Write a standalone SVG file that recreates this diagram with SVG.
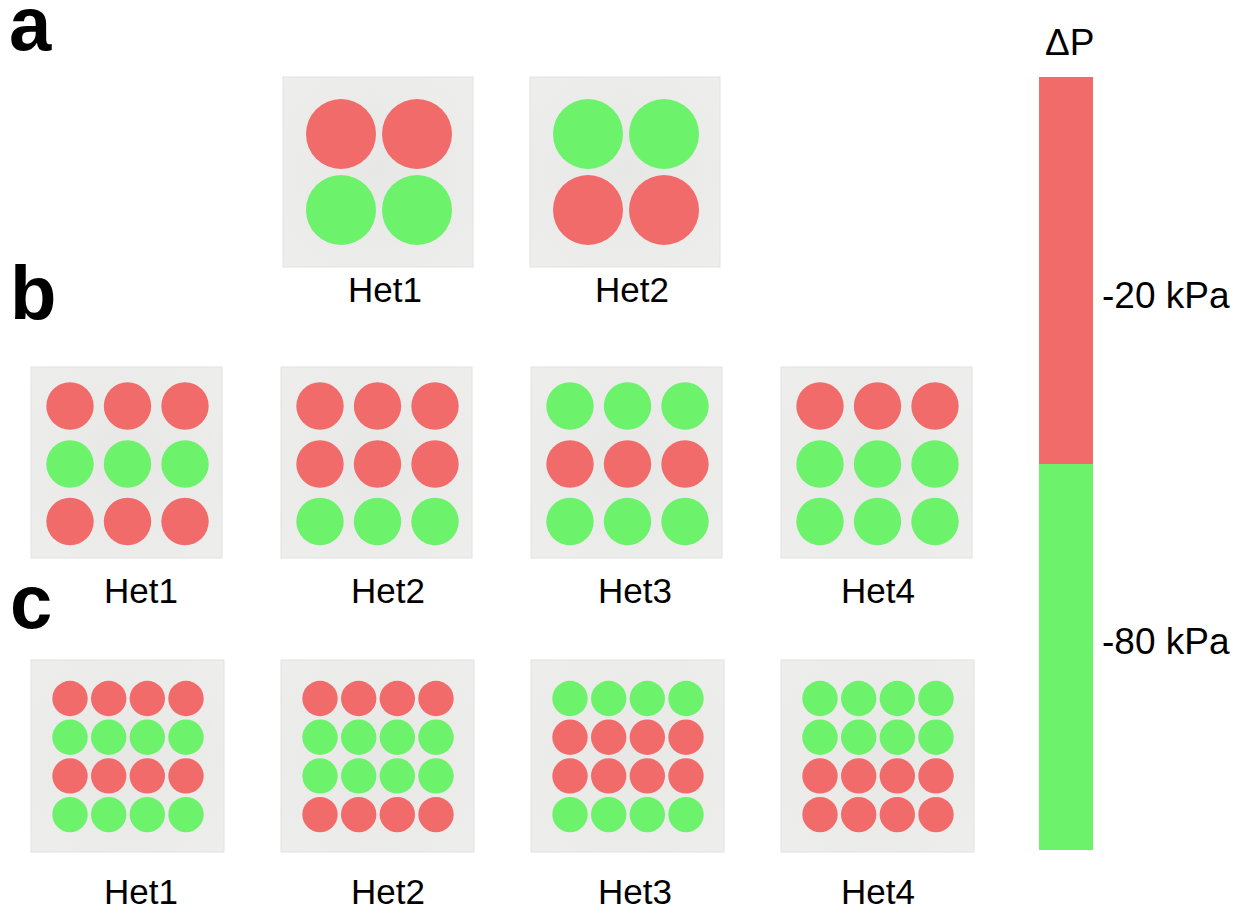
<svg xmlns="http://www.w3.org/2000/svg" width="1247" height="912" viewBox="0 0 1247 912">
<style>
.bg{fill:#EBEBEA;stroke:#E2E2E2;stroke-width:1}
.r{fill:#F26B6B}
.g{fill:#6CF26B}
.lbl{font-family:"Liberation Sans",Arial,sans-serif;font-size:35px;fill:#000;text-anchor:middle}
.big{font-family:"Liberation Sans",Arial,sans-serif;font-size:76px;font-weight:bold;fill:#000}
.cb{font-family:"Liberation Sans",Arial,sans-serif;font-size:37px;fill:#000}
</style>
<defs>
<radialGradient id="sh" cx="0.5" cy="0.5" r="0.7">
<stop offset="0" stop-color="#E7E7E6"/>
<stop offset="1" stop-color="#EEEEED"/>
</radialGradient>
</defs>
<rect width="1247" height="912" fill="#fff"/>
<text class="big" x="9" y="50">a</text>
<text class="big" x="10" y="319">b</text>
<text class="big" x="10" y="628">c</text>

<g id="a-het1">
<rect class="bg" x="283" y="77" width="190" height="190" style="fill:url(#sh)"/>
<circle class="r" cx="341" cy="134" r="35"/><circle class="r" cx="417" cy="134" r="35"/>
<circle class="g" cx="341" cy="210" r="35"/><circle class="g" cx="417" cy="210" r="35"/>
<text class="lbl" x="385" y="302">Het1</text>
</g>
<g id="a-het2">
<rect class="bg" x="530" y="77" width="190" height="190" style="fill:url(#sh)"/>
<circle class="g" cx="588" cy="134" r="35"/><circle class="g" cx="664" cy="134" r="35"/>
<circle class="r" cx="588" cy="210" r="35"/><circle class="r" cx="664" cy="210" r="35"/>
<text class="lbl" x="632" y="302">Het2</text>
</g>

<g id="b-het1" transform="translate(0,0)">
<rect class="bg" x="31" y="367" width="191" height="191" style="fill:url(#sh)"/>
<circle class="r" cx="70" cy="406" r="23.7"/><circle class="r" cx="127.5" cy="406" r="23.7"/><circle class="r" cx="185" cy="406" r="23.7"/>
<circle class="g" cx="70" cy="464" r="23.7"/><circle class="g" cx="127.5" cy="464" r="23.7"/><circle class="g" cx="185" cy="464" r="23.7"/>
<circle class="r" cx="70" cy="521.5" r="23.7"/><circle class="r" cx="127.5" cy="521.5" r="23.7"/><circle class="r" cx="185" cy="521.5" r="23.7"/>
<text class="lbl" x="141" y="603">Het1</text>
</g>
<g id="b-het2" transform="translate(250,0)">
<rect class="bg" x="31" y="367" width="191" height="191" style="fill:url(#sh)"/>
<circle class="r" cx="70" cy="406" r="23.7"/><circle class="r" cx="127.5" cy="406" r="23.7"/><circle class="r" cx="185" cy="406" r="23.7"/>
<circle class="r" cx="70" cy="464" r="23.7"/><circle class="r" cx="127.5" cy="464" r="23.7"/><circle class="r" cx="185" cy="464" r="23.7"/>
<circle class="g" cx="70" cy="521.5" r="23.7"/><circle class="g" cx="127.5" cy="521.5" r="23.7"/><circle class="g" cx="185" cy="521.5" r="23.7"/>
<text class="lbl" x="138" y="603">Het2</text>
</g>
<g id="b-het3" transform="translate(500,0)">
<rect class="bg" x="31" y="367" width="191" height="191" style="fill:url(#sh)"/>
<circle class="g" cx="70" cy="406" r="23.7"/><circle class="g" cx="127.5" cy="406" r="23.7"/><circle class="g" cx="185" cy="406" r="23.7"/>
<circle class="r" cx="70" cy="464" r="23.7"/><circle class="r" cx="127.5" cy="464" r="23.7"/><circle class="r" cx="185" cy="464" r="23.7"/>
<circle class="g" cx="70" cy="521.5" r="23.7"/><circle class="g" cx="127.5" cy="521.5" r="23.7"/><circle class="g" cx="185" cy="521.5" r="23.7"/>
<text class="lbl" x="135" y="603">Het3</text>
</g>
<g id="b-het4" transform="translate(750,0)">
<rect class="bg" x="31" y="367" width="191" height="191" style="fill:url(#sh)"/>
<circle class="r" cx="70" cy="406" r="23.7"/><circle class="r" cx="127.5" cy="406" r="23.7"/><circle class="r" cx="185" cy="406" r="23.7"/>
<circle class="g" cx="70" cy="464" r="23.7"/><circle class="g" cx="127.5" cy="464" r="23.7"/><circle class="g" cx="185" cy="464" r="23.7"/>
<circle class="g" cx="70" cy="521.5" r="23.7"/><circle class="g" cx="127.5" cy="521.5" r="23.7"/><circle class="g" cx="185" cy="521.5" r="23.7"/>
<text class="lbl" x="128" y="603">Het4</text>
</g>

<g id="c-het1" transform="translate(0,0)">
<rect class="bg" x="31" y="660" width="193" height="192" style="fill:url(#sh)"/>
<g class="r"><circle cx="70" cy="698.5" r="17.7"/><circle cx="108.7" cy="698.5" r="17.7"/><circle cx="147.3" cy="698.5" r="17.7"/><circle cx="186" cy="698.5" r="17.7"/></g>
<g class="g"><circle cx="70" cy="737.2" r="17.7"/><circle cx="108.7" cy="737.2" r="17.7"/><circle cx="147.3" cy="737.2" r="17.7"/><circle cx="186" cy="737.2" r="17.7"/></g>
<g class="r"><circle cx="70" cy="775.9" r="17.7"/><circle cx="108.7" cy="775.9" r="17.7"/><circle cx="147.3" cy="775.9" r="17.7"/><circle cx="186" cy="775.9" r="17.7"/></g>
<g class="g"><circle cx="70" cy="814.6" r="17.7"/><circle cx="108.7" cy="814.6" r="17.7"/><circle cx="147.3" cy="814.6" r="17.7"/><circle cx="186" cy="814.6" r="17.7"/></g>
<text class="lbl" x="141" y="904">Het1</text>
</g>
<g id="c-het2" transform="translate(250,0)">
<rect class="bg" x="31" y="660" width="193" height="192" style="fill:url(#sh)"/>
<g class="r"><circle cx="70" cy="698.5" r="17.7"/><circle cx="108.7" cy="698.5" r="17.7"/><circle cx="147.3" cy="698.5" r="17.7"/><circle cx="186" cy="698.5" r="17.7"/></g>
<g class="g"><circle cx="70" cy="737.2" r="17.7"/><circle cx="108.7" cy="737.2" r="17.7"/><circle cx="147.3" cy="737.2" r="17.7"/><circle cx="186" cy="737.2" r="17.7"/></g>
<g class="g"><circle cx="70" cy="775.9" r="17.7"/><circle cx="108.7" cy="775.9" r="17.7"/><circle cx="147.3" cy="775.9" r="17.7"/><circle cx="186" cy="775.9" r="17.7"/></g>
<g class="r"><circle cx="70" cy="814.6" r="17.7"/><circle cx="108.7" cy="814.6" r="17.7"/><circle cx="147.3" cy="814.6" r="17.7"/><circle cx="186" cy="814.6" r="17.7"/></g>
<text class="lbl" x="138" y="904">Het2</text>
</g>
<g id="c-het3" transform="translate(500,0)">
<rect class="bg" x="31" y="660" width="193" height="192" style="fill:url(#sh)"/>
<g class="g"><circle cx="70" cy="698.5" r="17.7"/><circle cx="108.7" cy="698.5" r="17.7"/><circle cx="147.3" cy="698.5" r="17.7"/><circle cx="186" cy="698.5" r="17.7"/></g>
<g class="r"><circle cx="70" cy="737.2" r="17.7"/><circle cx="108.7" cy="737.2" r="17.7"/><circle cx="147.3" cy="737.2" r="17.7"/><circle cx="186" cy="737.2" r="17.7"/></g>
<g class="r"><circle cx="70" cy="775.9" r="17.7"/><circle cx="108.7" cy="775.9" r="17.7"/><circle cx="147.3" cy="775.9" r="17.7"/><circle cx="186" cy="775.9" r="17.7"/></g>
<g class="g"><circle cx="70" cy="814.6" r="17.7"/><circle cx="108.7" cy="814.6" r="17.7"/><circle cx="147.3" cy="814.6" r="17.7"/><circle cx="186" cy="814.6" r="17.7"/></g>
<text class="lbl" x="135" y="904">Het3</text>
</g>
<g id="c-het4" transform="translate(750,0)">
<rect class="bg" x="31" y="660" width="193" height="192" style="fill:url(#sh)"/>
<g class="g"><circle cx="70" cy="698.5" r="17.7"/><circle cx="108.7" cy="698.5" r="17.7"/><circle cx="147.3" cy="698.5" r="17.7"/><circle cx="186" cy="698.5" r="17.7"/></g>
<g class="g"><circle cx="70" cy="737.2" r="17.7"/><circle cx="108.7" cy="737.2" r="17.7"/><circle cx="147.3" cy="737.2" r="17.7"/><circle cx="186" cy="737.2" r="17.7"/></g>
<g class="r"><circle cx="70" cy="775.9" r="17.7"/><circle cx="108.7" cy="775.9" r="17.7"/><circle cx="147.3" cy="775.9" r="17.7"/><circle cx="186" cy="775.9" r="17.7"/></g>
<g class="r"><circle cx="70" cy="814.6" r="17.7"/><circle cx="108.7" cy="814.6" r="17.7"/><circle cx="147.3" cy="814.6" r="17.7"/><circle cx="186" cy="814.6" r="17.7"/></g>
<text class="lbl" x="128" y="904">Het4</text>
</g>

<g id="colorbar">
<rect class="r" x="1039" y="77" width="54" height="387"/>
<rect class="g" x="1039" y="464" width="54" height="386"/>
<text class="cb" x="1045" y="55">ΔP</text>
<text class="cb" x="1102" y="308">-20 kPa</text>
<text class="cb" x="1102" y="654">-80 kPa</text>
</g>
</svg>
